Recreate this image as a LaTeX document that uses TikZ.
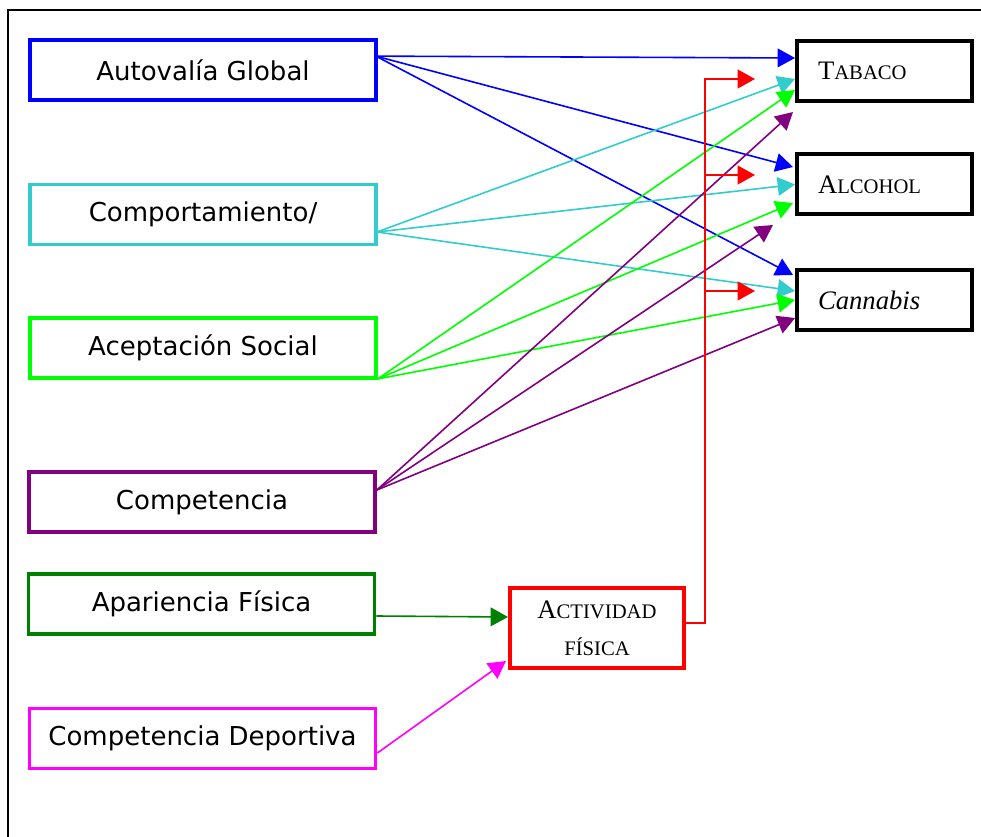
\documentclass[tikz,border=0pt]{standalone}
\usepackage{fontspec}
\newfontfamily\boxfont{DejaVu Sans}
\newfontfamily\drugfont{Liberation Serif}
\usetikzlibrary{arrows.meta,positioning,calc}

\definecolor{cyanish}{RGB}{51,204,204}
\definecolor{lime}{RGB}{0,255,0}
\definecolor{plum}{RGB}{128,0,128}
\definecolor{darkgreen}{RGB}{0,128,0}
\definecolor{pink}{RGB}{255,0,255}

% fake small caps: big first letter, smaller rest
\newcommand{\capbig}[1]{{\fontsize{20}{22}\selectfont #1}}
\newcommand{\capsmall}[1]{{\fontsize{15.5}{18}\selectfont #1}}

\begin{document}
\begin{tikzpicture}[
  x=0.75pt, y=-0.75pt,
  srcbox/.style={draw, line width=2.8pt, minimum width=259.5pt, minimum height=45pt,
                 inner sep=0pt, font=\boxfont\fontsize{19.5}{22}\selectfont},
  drugbox/.style={draw=black, line width=3pt, text width=99.75pt, inner xsep=15.75pt,
                  minimum height=45pt, align=left, font=\drugfont\fontsize{20}{22}\selectfont},
  actbox/.style={draw=red, line width=3pt, minimum width=130.5pt, minimum height=60pt,
                 align=center, font=\drugfont\fontsize{20}{22}\selectfont},
  arrow/.style={-{Triangle[length=13pt, width=14pt]}, line width=1.2pt},
  redarrow/.style={arrow, red, line width=1.6pt}
]
\useasboundingbox (0,0) rectangle (981,837);
\draw[line width=1.2pt] (8,837) -- (8,10) -- (981,10);

% Left column: dimensions
\node[srcbox, draw=blue] (aut) at (203,70) {Autovalía Global};
\node[srcbox, draw=cyanish] (com) at (203,214.5) {Comportamiento/};
\node[srcbox, draw=lime] (ace) at (203,348) {Aceptación Social};
\node[srcbox, draw=plum] (cmp) at (202,502) {Competencia};
\node[srcbox, draw=darkgreen] (apa) at (201.5,604) {Apariencia Física};
\node[srcbox, draw=pink] (dep) at (202.5,738.5) {Competencia Deportiva};

% Right column: substances
\node[drugbox] (tab) at (884.5,71) {\capbig{T}\capsmall{ABACO}};
\node[drugbox] (alc) at (884.5,184.5) {\capbig{A}\capsmall{LCOHOL}};
\node[drugbox] (can) at (884.5,300) {\textit{Cannabis}};

% Middle: physical activity
\node[actbox] (act) at (597,628) {\capbig{A}\capsmall{CTIVIDAD}\\[6pt]\capsmall{FÍSICA}};

% Autovalía Global
\draw[arrow, blue] ($(aut.north east)+(-2,18)$) -- ($(tab.west)+(0,-13)$);
\draw[arrow, blue] ($(aut.north east)+(-2,18)$) -- ($(alc.west)+(-2,-17.5)$);
\draw[arrow, blue] ($(aut.north east)+(-2,18)$) -- ($(can.north west)+(-2,7)$);

% Comportamiento
\draw[arrow, cyanish] ($(com.east)+(-1,17.5)$) -- ($(tab.west)+(0,8)$);
\draw[arrow, cyanish] ($(com.east)+(-1,17.5)$) -- (alc.west);
\draw[arrow, cyanish] ($(com.east)+(-1,17.5)$) -- ($(can.west)+(0,-9)$);

% Aceptación Social
\draw[arrow, lime] ($(ace.south east)+(0,-1)$) -- ($(tab.west)+(0,19)$);
\draw[arrow, lime] ($(ace.south east)+(0,-1)$) -- ($(alc.west)+(-2,18.5)$);
\draw[arrow, lime] ($(ace.south east)+(0,-1)$) -- (can.west);

% Competencia
\draw[arrow, plum] ($(cmp.east)+(0,-12)$) -- ($(tab.south west)+(-2,9)$);
\draw[arrow, plum] ($(cmp.east)+(0,-12)$) -- ($(alc.south west)+(-22,8.5)$);
\draw[arrow, plum] ($(cmp.east)+(0,-12)$) -- ($(can.west)+(0,18)$);

% Apariencia / Deportiva -> Actividad
\draw[arrow, darkgreen] ($(apa.east)+(0,12)$) -- ($(act.west)+(0,-11)$);
\draw[arrow, pink] ($(dep.east)+(0,14.5)$) -- ($(act.south west)+(-2,-9)$);

% Actividad -> substances
\coordinate (rT) at ($(tab.west)+(-40,8)$);
\coordinate (rA) at ($(alc.west)+(-40,-9.5)$);
\coordinate (rC) at ($(can.west)+(-40,-9)$);
\coordinate (bus) at ($(act.east)+(19,-5)$);
\draw[redarrow] ($(act.east)+(0,-5)$) -- (bus) -- (bus |- rT) -- (rT);
\draw[redarrow] (bus |- rA) -- (rA);
\draw[redarrow] (bus |- rC) -- (rC);
\end{tikzpicture}
\end{document}
